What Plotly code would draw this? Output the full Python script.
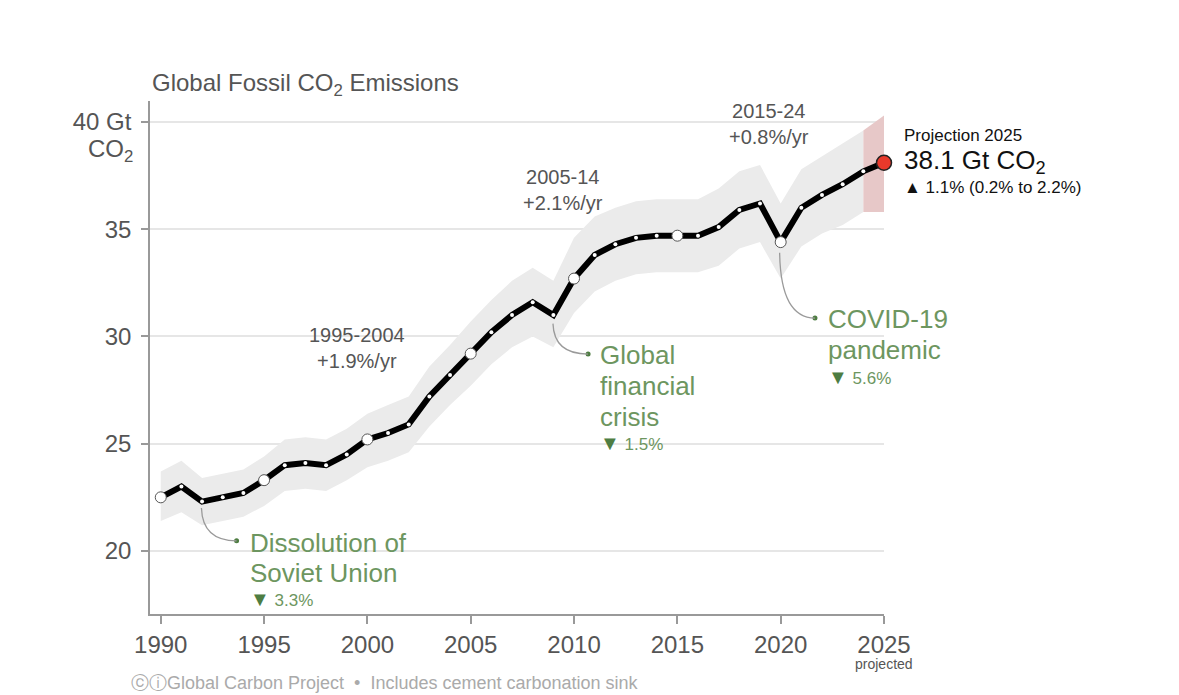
import plotly.graph_objects as go

# ---------- data ----------
years = list(range(1990, 2026))
emissions = [22.5, 23.0, 22.3, 22.5, 22.7, 23.3, 24.0, 24.1, 24.0, 24.5,
             25.2, 25.5, 25.9, 27.2, 28.2, 29.2, 30.2, 31.0, 31.6, 31.0,
             32.7, 33.8, 34.3, 34.6, 34.7, 34.7, 34.7, 35.1, 35.9, 36.2,
             34.4, 36.0, 36.6, 37.1, 37.7, 38.1]

# uncertainty band (historic, grey)
band_years = list(range(1990, 2025))
band_low = [21.4, 21.8, 21.2, 21.4, 21.6, 22.1, 22.8, 22.9, 22.8, 23.3,
            23.9, 24.2, 24.6, 25.8, 26.8, 27.7, 28.7, 29.5, 30.0, 29.5,
            31.1, 32.1, 32.6, 32.9, 33.0, 33.0, 33.0, 33.3, 34.1, 34.4,
            32.7, 34.2, 34.8, 35.2, 35.8]
band_high = [23.7, 24.2, 23.4, 23.6, 23.8, 24.4, 25.2, 25.3, 25.2, 25.7,
             26.4, 26.8, 27.2, 28.6, 29.6, 30.7, 31.7, 32.6, 33.2, 32.6,
             34.6, 35.6, 36.0, 36.3, 36.4, 36.4, 36.4, 36.9, 37.7, 38.0,
             36.2, 37.8, 38.4, 39.0, 39.6]

# projection range (pink)
proj_years = [2024, 2025]
proj_low = [35.8, 35.8]
proj_high = [39.6, 40.3]

circle_years = [1990, 1995, 2000, 2005, 2010, 2015, 2020]
x_ticks = [1990, 1995, 2000, 2005, 2010, 2015, 2020, 2025]
y_ticks = [20, 25, 30, 35, 40]
y_labels = ['20', '25', '30', '35', '40 Gt']

FONT = 'Liberation Sans, Arial, sans-serif'
GREY_TXT = '#555555'
GREEN = '#6d9660'
GREEN_DARK = '#4e7d42'

fig = go.Figure()

# grey band
fig.add_trace(go.Scatter(x=band_years, y=band_high, mode='lines',
                         line=dict(width=0), hoverinfo='skip', showlegend=False))
fig.add_trace(go.Scatter(x=band_years, y=band_low, mode='lines', fill='tonexty',
                         fillcolor='#ebebeb', line=dict(width=0),
                         hoverinfo='skip', showlegend=False))
# pink projection band
fig.add_trace(go.Scatter(x=proj_years, y=proj_high, mode='lines',
                         line=dict(width=0), hoverinfo='skip', showlegend=False))
fig.add_trace(go.Scatter(x=proj_years, y=proj_low, mode='lines', fill='tonexty',
                         fillcolor='#e7c8c8', line=dict(width=0),
                         hoverinfo='skip', showlegend=False))

# main line with small white dots
fig.add_trace(go.Scatter(x=years, y=emissions, mode='lines+markers',
                         line=dict(color='black', width=6),
                         marker=dict(size=4, color='white'),
                         showlegend=False, cliponaxis=False))

# bigger hollow circles every 5 years
cy = [emissions[years.index(y)] for y in circle_years]
fig.add_trace(go.Scatter(x=circle_years, y=cy, mode='markers',
                         marker=dict(size=11, color='white',
                                     line=dict(color='#555555', width=1)),
                         showlegend=False, cliponaxis=False))

# 2025 projection point
fig.add_trace(go.Scatter(x=[years[-1]], y=[emissions[-1]], mode='markers',
                         marker=dict(size=15, color='#e8392b',
                                     line=dict(color='#222222', width=1.5)),
                         showlegend=False, cliponaxis=False))

# ---------- event callouts ----------
events = [
    dict(start=(1991.97, 22.0), dot=(1993.67, 20.47), tx=1994.22,
         lines=[('Dissolution of', 20.37), ('Soviet Union', 18.97)],
         drop=('3.3%', 17.74)),
    dict(start=(2008.98, 30.6), dot=(2010.68, 29.18), tx=2011.16,
         lines=[('Global', 29.14), ('financial', 27.69), ('crisis', 26.25)],
         drop=('1.5%', 25.02)),
    dict(start=(2019.95, 33.9), dot=(2021.66, 30.86), tx=2022.19,
         lines=[('COVID-19', 30.82), ('pandemic', 29.37)],
         drop=('5.6%', 28.12)),
]

annotations = []
shapes = []
for ev in events:
    x0, y0 = ev['start']
    x1, y1 = ev['dot']
    shapes.append(dict(type='path', xref='x', yref='y',
                       path=f'M {x0},{y0} Q {x0 + 0.05},{y1} {x1},{y1}',
                       line=dict(color='#9a9a9a', width=1.3)))
    fig.add_trace(go.Scatter(x=[x1], y=[y1], mode='markers',
                             marker=dict(size=5, color=GREEN_DARK),
                             showlegend=False, hoverinfo='skip'))
    for txt, ly in ev['lines']:
        annotations.append(dict(x=ev['tx'], y=ly, xref='x', yref='y', text=txt,
                                showarrow=False, xanchor='left', yanchor='middle',
                                font=dict(size=26, color=GREEN, family=FONT)))
    pct, dy = ev['drop']
    annotations.append(dict(x=ev['tx'], y=dy, xref='x', yref='y',
                            text=f'<span style="color:{GREEN_DARK};font-size:20px">▼</span> {pct}',
                            showarrow=False, xanchor='left', yanchor='middle',
                            font=dict(size=17, color=GREEN, family=FONT)))

# growth-rate period labels
periods = [('1995-2004', '+1.9%/yr', 1999.5, 29.46),
           ('2005-14', '+2.1%/yr', 2009.47, 36.85),
           ('2015-24', '+0.8%/yr', 2019.44, 39.9)]
for p, r, px, py in periods:
    annotations.append(dict(x=px, y=py, xref='x', yref='y', text=f'{p}<br>{r}',
                            showarrow=False, xanchor='center', yanchor='middle',
                            font=dict(size=20, color=GREY_TXT, family=FONT)))

# projection text (anchored on 2025, pushed right of the plot area)
annotations += [
    dict(x=2025, y=39.39, xref='x', yref='y', xshift=18, text='Projection 2025',
         showarrow=False, xanchor='left', yanchor='middle',
         font=dict(size=17, color='#111111', family=FONT)),
    dict(x=2025, y=38.15, xref='x', yref='y', xshift=18, text='38.1 Gt CO<sub>2</sub>',
         showarrow=False, xanchor='left', yanchor='middle',
         font=dict(size=26, color='#111111', family=FONT)),
    dict(x=2025, y=36.97, xref='x', yref='y', xshift=18, text='▲ 1.1% (0.2% to 2.2%)',
         showarrow=False, xanchor='left', yanchor='middle',
         font=dict(size=17, color='#111111', family=FONT)),
]

# title, axis unit, footer
annotations += [
    dict(x=0, y=1, xref='paper', yref='paper', yshift=17,
         text='Global Fossil CO<sub>2</sub> Emissions', showarrow=False,
         xanchor='left', yanchor='middle',
         font=dict(size=24, color=GREY_TXT, family=FONT)),
    dict(x=0, y=40, xref='paper', yref='y', xshift=-15, yshift=-28,
         text='CO<sub>2</sub>', showarrow=False, xanchor='right', yanchor='middle',
         font=dict(size=24, color=GREY_TXT, family=FONT)),
    dict(x=2025, y=0, xref='x', yref='paper', yshift=-50, text='projected',
         showarrow=False, xanchor='center', yanchor='middle',
         font=dict(size=14, color=GREY_TXT, family=FONT)),
    dict(x=-0.0286, y=0, xref='paper', yref='paper', yshift=-69,
         text='ⓒⓘGlobal Carbon Project  •  Includes cement carbonation sink',
         showarrow=False, xanchor='left', yanchor='middle',
         font=dict(size=18, color='#aaaaaa', family=FONT)),
]

# page puts the figure at an 8px offset, so size/margins are trimmed for it
fig.update_layout(
    width=1171, height=687,
    margin=dict(l=142, r=295, t=93, b=81),
    paper_bgcolor='white', plot_bgcolor='white',
    font=dict(family=FONT, color=GREY_TXT),
    showlegend=False,
    annotations=annotations,
    shapes=shapes,
    xaxis=dict(range=[1989.48, 2025.0], tickvals=x_ticks,
               ticks='outside', ticklen=8, tickcolor='#999999', tickwidth=1.5,
               showline=True, linecolor='#999999', linewidth=1.5,
               showgrid=False, zeroline=False,
               tickfont=dict(size=24, color=GREY_TXT, family=FONT)),
    yaxis=dict(range=[17.06, 40.98], tickvals=y_ticks, ticktext=y_labels,
               ticks='outside', ticklen=7, tickcolor='#999999', tickwidth=1.5,
               showline=True, linecolor='#999999', linewidth=1.5,
               showgrid=True, gridcolor='#e6e6e6', gridwidth=1.5, zeroline=False,
               ticklabelstandoff=5,
               tickfont=dict(size=24, color=GREY_TXT, family=FONT)),
)

fig.write_html('out.html')
